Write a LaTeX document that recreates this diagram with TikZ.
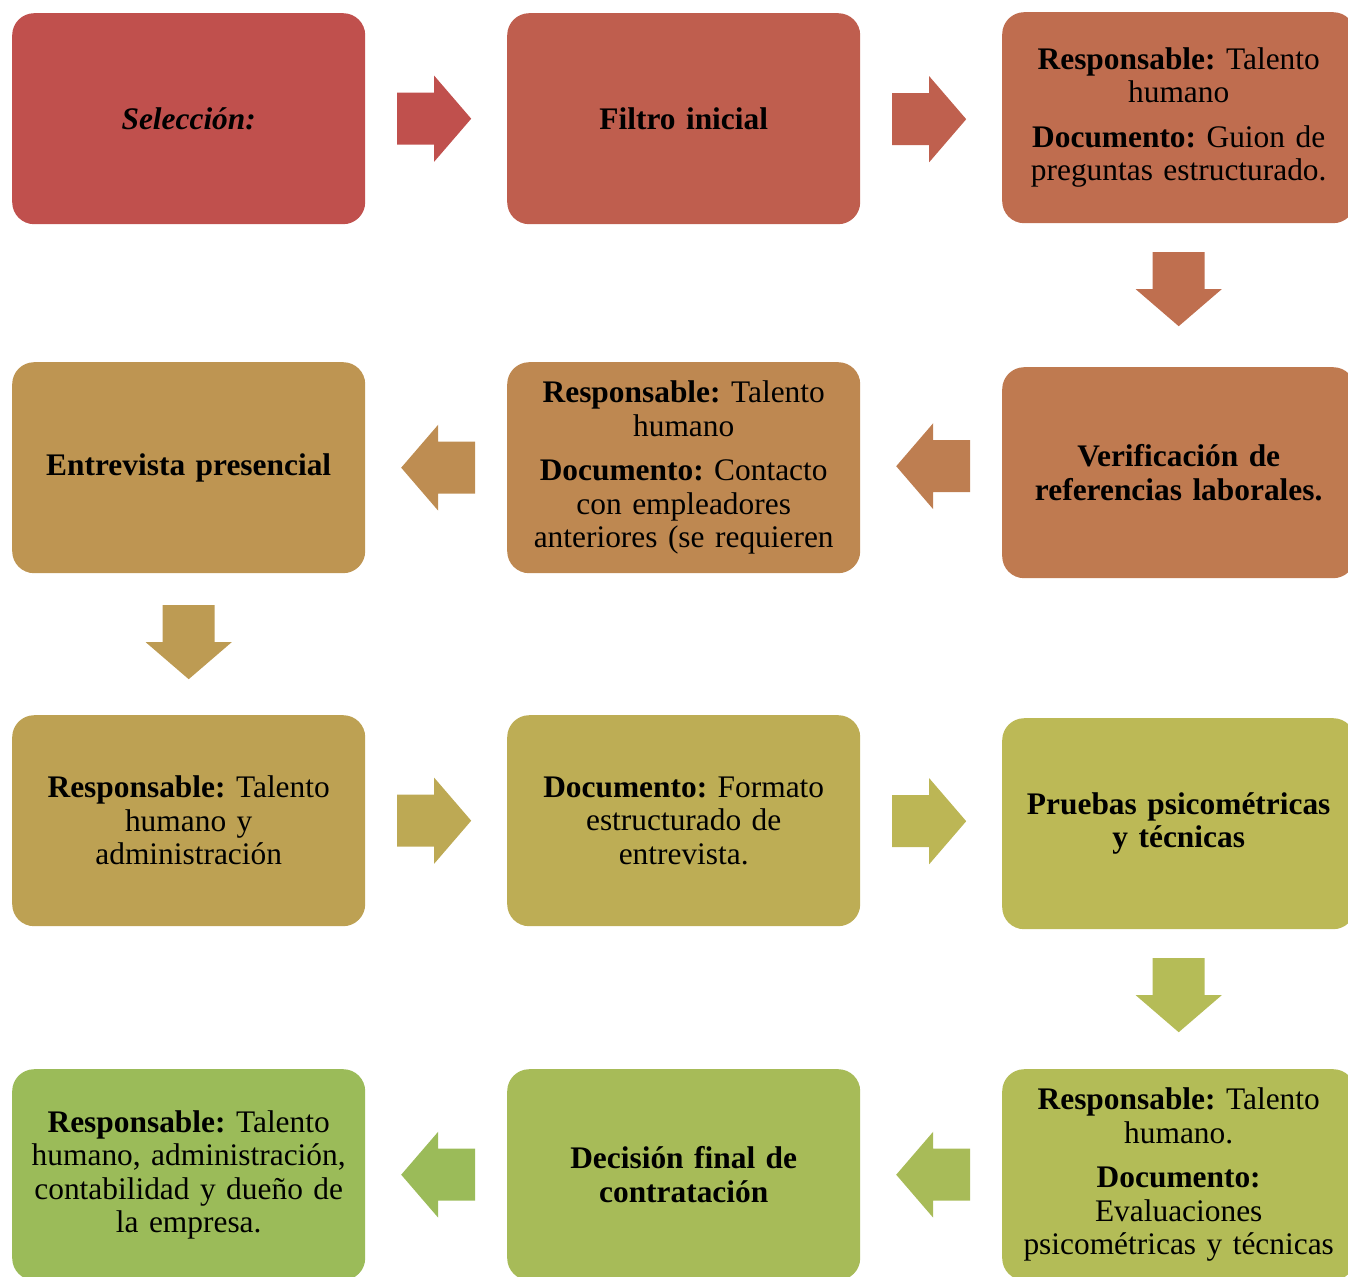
\documentclass[tikz,border=0pt]{standalone}
\usepackage{fontspec}
\setmainfont{Liberation Serif}
\usetikzlibrary{calc}
\frenchspacing

% colour range of the twelve stages (red to green)
\definecolor{c0}{RGB}{192,80,77}
\definecolor{c1}{RGB}{191,94,78}
\definecolor{c2}{RGB}{191,109,79}
\definecolor{c3}{RGB}{191,122,80}
\definecolor{c4}{RGB}{190,136,81}
\definecolor{c5}{RGB}{190,149,82}
\definecolor{c6}{RGB}{189,161,83}
\definecolor{c7}{RGB}{189,173,85}
\definecolor{c8}{RGB}{188,185,86}
\definecolor{c9}{RGB}{179,188,87}
\definecolor{c10}{RGB}{167,187,88}
\definecolor{c11}{RGB}{155,187,89}
% colour range of the eleven block arrows
\definecolor{a0}{RGB}{192,80,77}
\definecolor{a1}{RGB}{191,96,78}
\definecolor{a2}{RGB}{191,111,79}
\definecolor{a3}{RGB}{190,126,81}
\definecolor{a4}{RGB}{190,141,82}
\definecolor{a5}{RGB}{189,155,83}
\definecolor{a6}{RGB}{189,169,84}
\definecolor{a7}{RGB}{188,182,85}
\definecolor{a8}{RGB}{181,188,87}
\definecolor{a9}{RGB}{168,187,88}
\definecolor{a10}{RGB}{155,187,89}

\tikzset{
  stage/.style={fill=#1, rounded corners=22pt, minimum width=353pt,
    minimum height=211pt, anchor=north west, inner sep=0pt,
    text width=345pt, align=center, text=black,
    font=\fontsize{31.4}{33.5}\selectfont},
}

% block arrow: colour, centre coordinate, direction angle
\newcommand{\blockarrow}[3]{%
  \fill[#1, shift={#2}, rotate=#3]
    (-37,-26) -- (0,-26) -- (0,-43) -- (37,0) -- (0,43) -- (0,26) -- (-37,26) -- cycle;}

\begin{document}
\begin{tikzpicture}[x=1pt, y=-1pt]
\useasboundingbox (0,0) rectangle (1348,1276);
\clip (0,0) rectangle (1348,1276);

% row 1
\node[stage=c0] (b0) at (12,13) {\textbf{\textit{Selección:}}};
\node[stage=c1] (b1) at (507,13) {\textbf{Filtro inicial}};
\node[stage=c2] (b2) at (1002,12) {\textbf{Responsable:} Talento\\humano\\[11pt]
  \textbf{Documento:} Guion de\\preguntas estructurado.};

% row 2
\node[stage=c3] (b3) at (1002,367) {\textbf{Verificación de\\referencias laborales.}};
\node[stage=c4] (b4) at (507,362) {\textbf{Responsable:} Talento\\humano\\[11pt]
  \textbf{Documento:} Contacto\\con empleadores\\anteriores (se requieren};
\node[stage=c5] (b5) at (12,362) {\textbf{Entrevista presencial}};

% row 3
\node[stage=c6] (b6) at (12,715) {\textbf{Responsable:} Talento\\humano y\\administración};
\node[stage=c7] (b7) at (507,715) {\textbf{Documento:} Formato\\estructurado de\\entrevista.};
\node[stage=c8] (b8) at (1002,718) {\textbf{Pruebas psicométricas\\y técnicas}};

% row 4
\node[stage=c9] (b9) at (1002,1069) {\textbf{Responsable:} Talento\\humano.\\[11pt]
  \textbf{Documento:}\\Evaluaciones\\psicométricas y técnicas};
\node[stage=c10] (b10) at (507,1069) {\textbf{Decisión final de\\contratación}};
\node[stage=c11] (b11) at (12,1069) {\textbf{Responsable:} Talento\\humano, administración,\\contabilidad y dueño de\\la empresa.};

% arrow positions between consecutive stages
\coordinate (p0) at ($(b0.east)!0.5!(b1.west)+(-2,0)$);
\coordinate (p1) at ($(b1.east)!0.5!(b2.west)+(-2,1)$);
\coordinate (p2) at ($(b2.south)!0.5!(b3.north)+(0,-6)$);
\coordinate (p3) at ($(b3.west)!0.5!(b4.east)+(2,-4)$);
\coordinate (p4) at ($(b4.west)!0.5!(b5.east)+(2,0)$);
\coordinate (p5) at ($(b5.south)!0.5!(b6.north)+(0,-2)$);
\coordinate (p6) at ($(b6.east)!0.5!(b7.west)+(-2,0)$);
\coordinate (p7) at ($(b7.east)!0.5!(b8.west)+(-2,-1)$);
\coordinate (p8) at ($(b8.south)!0.5!(b9.north)+(0,-4)$);
\coordinate (p9) at ($(b9.west)!0.5!(b10.east)+(2,0)$);
\coordinate (p10) at ($(b10.west)!0.5!(b11.east)+(2,0)$);

\blockarrow{a0}{(p0)}{0}
\blockarrow{a1}{(p1)}{0}
\blockarrow{a2}{(p2)}{-90}
\blockarrow{a3}{(p3)}{180}
\blockarrow{a4}{(p4)}{180}
\blockarrow{a5}{(p5)}{-90}
\blockarrow{a6}{(p6)}{0}
\blockarrow{a7}{(p7)}{0}
\blockarrow{a8}{(p8)}{-90}
\blockarrow{a9}{(p9)}{180}
\blockarrow{a10}{(p10)}{180}
\end{tikzpicture}
\end{document}
